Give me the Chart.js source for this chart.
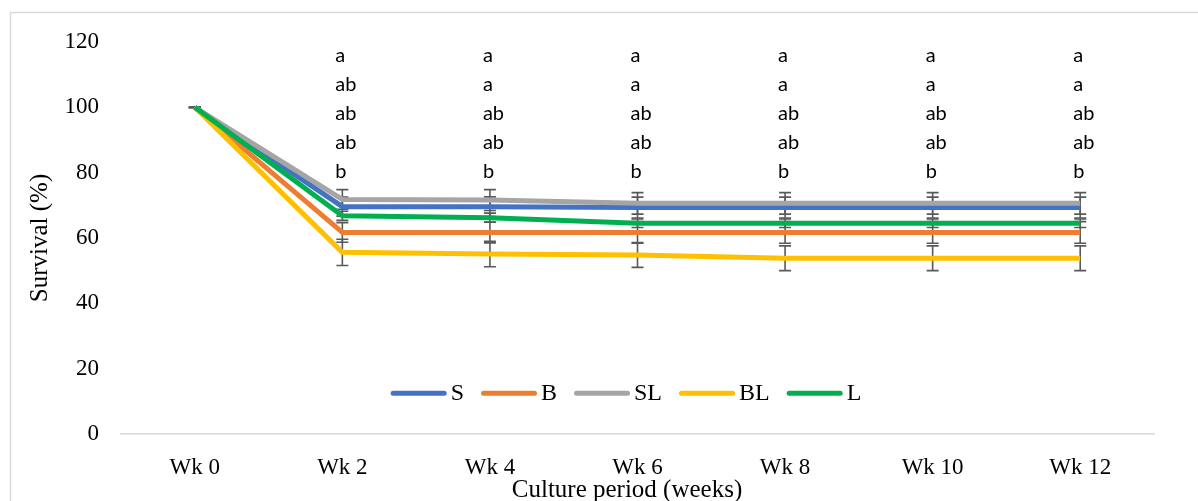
<!DOCTYPE html>
<html>
<head>
<meta charset="utf-8">
<style>
  html, body { margin: 0; padding: 0; background: #ffffff; }
  #wrap { width: 1198px; height: 501px; position: relative; }
</style>
<script src="https://cdn.jsdelivr.net/npm/chart.js@4.4.0/dist/chart.umd.min.js"></script>
</head>
<body>
<div id="wrap"><canvas id="c" width="1198" height="501"></canvas></div>
<script>
// Culture period categories
const weeks = ['Wk 0', 'Wk 2', 'Wk 4', 'Wk 6', 'Wk 8', 'Wk 10', 'Wk 12'];

// Survival (%) per treatment
const survS  = [100, 69.6, 69.6, 69.3, 69.3, 69.3, 69.3];
const survB  = [100, 61.7, 61.7, 61.7, 61.7, 61.7, 61.7];
const survSL = [100, 71.8, 71.6, 70.6, 70.6, 70.6, 70.6];
const survBL = [100, 55.6, 55.1, 54.8, 53.8, 53.8, 53.8];
const survL  = [100, 66.8, 66.2, 64.5, 64.5, 64.5, 64.5];

// Standard errors per treatment
const errS  = [0, 2.9, 3.0, 3.2, 3.2, 3.2, 3.2];
const errB  = [0, 3.0, 3.2, 3.3, 3.3, 3.3, 3.3];
const errSL = [0, 3.0, 3.2, 3.3, 3.3, 3.3, 3.3];
const errBL = [0, 4.0, 3.9, 3.8, 3.8, 3.8, 3.8];
const errL  = [0, 1.4, 1.4, 1.3, 1.3, 1.3, 1.3];

// Significance letters shown above each week
const sigLetters = [
  [],
  ['a', 'ab', 'ab', 'ab', 'b'],
  ['a', 'a', 'ab', 'ab', 'b'],
  ['a', 'a', 'ab', 'ab', 'b'],
  ['a', 'a', 'ab', 'ab', 'b'],
  ['a', 'a', 'ab', 'ab', 'b'],
  ['a', 'a', 'ab', 'ab', 'b']
];

// Y axis ticks
const yTicks = [0, 20, 40, 60, 80, 100, 120];

const xTitle = 'Culture period (weeks)';

const SERIF = "'Liberation Serif', 'Times New Roman', serif";
const SANS = "Lato, 'Open Sans', sans-serif";

const series = [
  { label: 'S',  data: survS,  err: errS,  color: '#4472C4' },
  { label: 'B',  data: survB,  err: errB,  color: '#ED7D31' },
  { label: 'SL', data: survSL, err: errSL, color: '#A5A5A5' },
  { label: 'BL', data: survBL, err: errBL, color: '#FFC000' },
  { label: 'L',  data: survL,  err: errL,  color: '#00B050' }
];

// Error bars drawn beneath the lines
const errorBars = {
  id: 'errorBars',
  beforeDatasetsDraw(chart) {
    const { ctx, scales: { x, y } } = chart;
    ctx.save();
    ctx.strokeStyle = '#595959';
    ctx.lineWidth = 1.6;
    chart.data.datasets.forEach(ds => {
      ds.data.forEach((v, i) => {
        const e = ds.errors[i];
        const px = x.getPixelForValue(i);
        const yt = y.getPixelForValue(v + e);
        const yb = y.getPixelForValue(v - e);
        ctx.beginPath();
        ctx.moveTo(px, yt); ctx.lineTo(px, yb);
        ctx.moveTo(px - 6, yt); ctx.lineTo(px + 6, yt);
        ctx.moveTo(px - 6, yb); ctx.lineTo(px + 6, yb);
        ctx.stroke();
      });
    });
    ctx.restore();
  }
};

// Letters, in-plot legend, x title and outer frame
const annotations = {
  id: 'annotations',
  afterDraw(chart) {
    const { ctx, chartArea, scales: { x, y } } = chart;
    ctx.save();

    // outer frame
    ctx.strokeStyle = '#d9d9d9';
    ctx.lineWidth = 1.5;
    ctx.strokeRect(10.5, 12.5, 1300, 600);

    // significance letters
    ctx.fillStyle = '#000';
    ctx.font = '20px ' + SANS;
    ctx.textAlign = 'left';
    ctx.textBaseline = 'middle';
    sigLetters.forEach((col, i) => {
      const px = x.getPixelForValue(i) - 7;
      col.forEach((t, k) => {
        ctx.fillText(t, px, chartArea.top + 14 + k * 29);
      });
    });

    // legend
    ctx.font = '24px ' + SERIF;
    const lineW = 56, gapIn = 4, gapOut = 17;
    const widths = chart.data.datasets.map(ds => lineW + gapIn + ctx.measureText(ds.label).width);
    const total = widths.reduce((a, b) => a + b, 0) + gapOut * (widths.length - 1);
    let lx = 626 - total / 2;
    const ly = y.getPixelForValue(12.5);
    chart.data.datasets.forEach((ds, i) => {
      ctx.strokeStyle = ds.borderColor;
      ctx.lineWidth = 5;
      ctx.lineCap = 'round';
      ctx.beginPath();
      ctx.moveTo(lx + 2.5, ly); ctx.lineTo(lx + lineW - 2.5, ly);
      ctx.stroke();
      ctx.fillStyle = '#000';
      ctx.fillText(ds.label, lx + lineW + gapIn, ly + 1);
      lx += widths[i] + gapOut;
    });

    // x axis title
    ctx.font = '25px ' + SERIF;
    ctx.textAlign = 'center';
    ctx.fillText(xTitle, 627, 490);
    ctx.restore();
  }
};

new Chart(document.getElementById('c'), {
  type: 'line',
  data: {
    labels: weeks,
    datasets: series.map((s, i) => ({
      label: s.label,
      data: s.data,
      errors: s.err,
      borderColor: s.color,
      backgroundColor: s.color,
      borderWidth: 5,
      pointRadius: 0,
      tension: 0,
      borderJoinStyle: 'round',
      fill: false,
      order: series.length - i
    }))
  },
  options: {
    responsive: false,
    animation: false,
    devicePixelRatio: 1,
    layout: { padding: { top: 42, right: 44, left: 0, bottom: 0 } },
    plugins: { legend: { display: false }, tooltip: { enabled: false } },
    scales: {
      x: {
        type: 'category',
        offset: true,
        grid: { display: false, drawTicks: false },
        border: { display: true, color: '#d9d9d9', width: 1.5 },
        ticks: { color: '#000', font: { family: SERIF, size: 23 }, padding: 20 },
        title: { display: false },
        afterFit(s) { s.height = 67; }
      },
      y: {
        min: 0, max: 120,
        afterBuildTicks(s) { s.ticks = yTicks.map(v => ({ value: v })); },
        grid: { display: false, drawTicks: false },
        border: { display: false },
        ticks: { color: '#000', font: { family: SERIF, size: 23 }, padding: 22 },
        title: { display: true, text: 'Survival (%)', color: '#000',
                 font: { family: SERIF, size: 25 }, padding: { top: 25 } },
        afterFit(s) { s.width = 121; }
      }
    }
  },
  plugins: [errorBars, annotations]
});
</script>
</body>
</html>
